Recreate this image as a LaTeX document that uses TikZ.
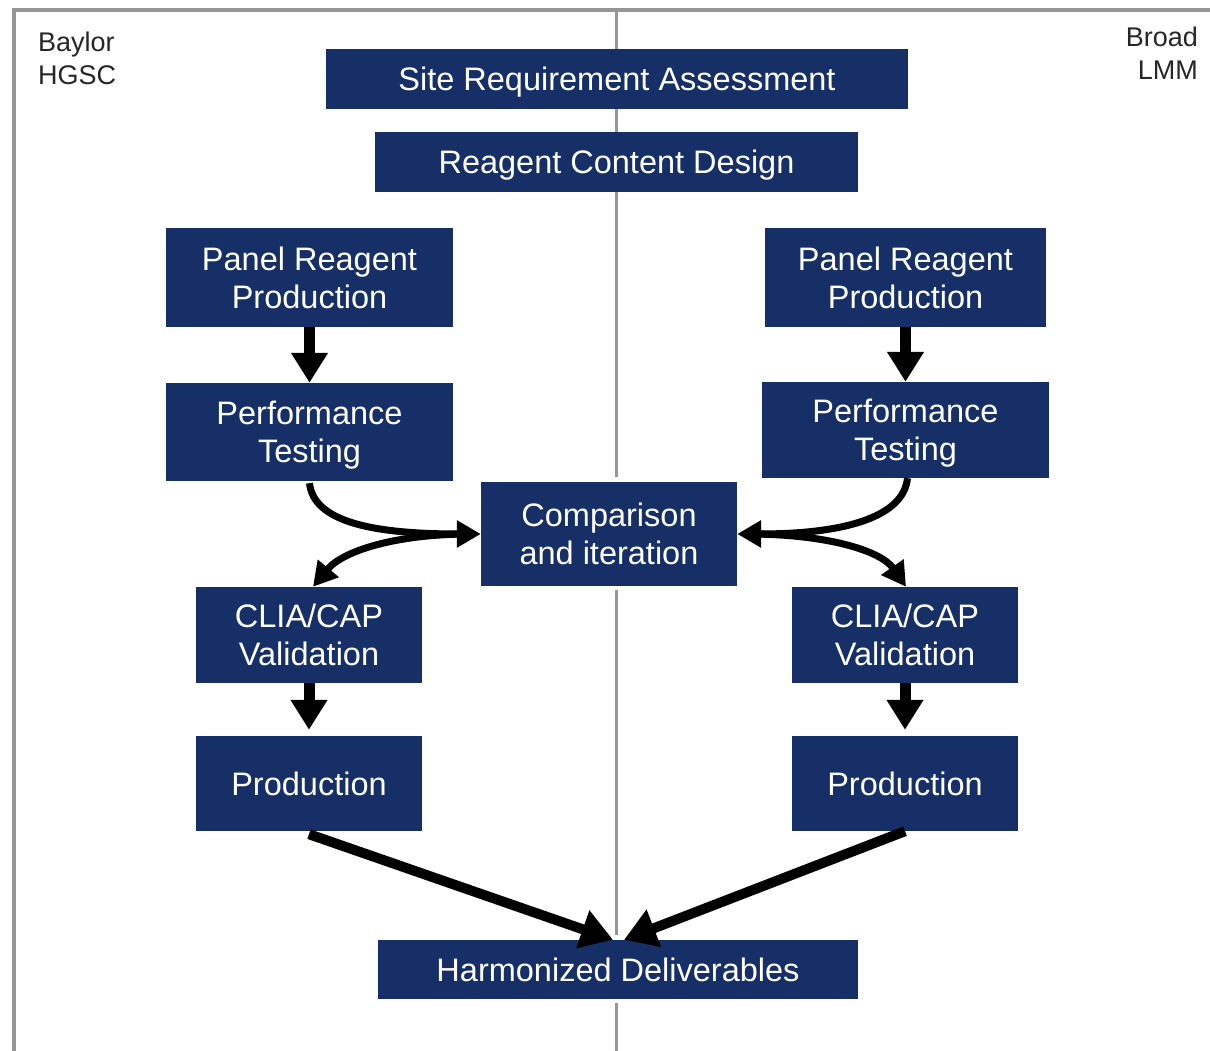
\documentclass[tikz,border=0pt]{standalone}
\usepackage{fontspec}
\setmainfont{Liberation Sans}
\usetikzlibrary{arrows.meta}
\definecolor{navy}{RGB}{22,47,103}
\definecolor{rulegray}{RGB}{150,150,150}
\begin{document}
\begin{tikzpicture}[x=1pt,y=1pt,
  stepbox/.style={fill=navy, text=white, align=center, inner sep=0pt,
    text depth=0pt, font=\fontsize{32.5}{38}\selectfont},
  haloed/.style={preaction={draw=white, line width=9pt}},
  sitelabel/.style={inner sep=0pt, text=black!85,
    font=\fontsize{27}{33}\selectfont},
  bigarrow/.style={line width=11pt, -{Triangle[length=30pt,width=35pt]}},
  diagarrow/.style={line width=10pt, -{Triangle[length=32pt,width=38pt]}},
  curvearrow/.style={line width=7pt, -{Triangle[length=24pt,width=26pt]}},
  frameline/.style={draw=rulegray, line width=3.5pt}
]
\useasboundingbox (0,0) rectangle (1210,1051);

% frame and the divider between the two sites
\draw[frameline] (14,-5) -- (14,1041) -- (1215,1041);
\draw[frameline, line width=3pt] (616,-5) -- (616,1041);

% site labels
\node[sitelabel, anchor=north west, align=left] (baylor) at (38,1019) {Baylor\\HGSC};
\node[sitelabel, anchor=north east, align=right] (broad) at (1198,1024) {Broad\\LMM};

% shared steps
\node[stepbox, minimum width=582pt, minimum height=60pt] (site) at (617,972) {Site Requirement Assessment};
\node[stepbox, minimum width=483pt, minimum height=60pt] (reag) at (616.5,889) {Reagent Content Design};

% Baylor column
\node[stepbox, minimum width=287pt, minimum height=99pt] (lpanel) at (309.5,773.5) {Panel Reagent\\Production};
\node[stepbox, minimum width=287pt, minimum height=98pt] (lperf) at (309.5,619) {Performance\\Testing};
\node[stepbox, minimum width=226pt, minimum height=96pt] (lclia) at (309,416) {CLIA/CAP\\Validation};
\node[stepbox, minimum width=226pt, minimum height=95pt] (lprod) at (309,267.5) {Production};

% Broad column
\node[stepbox, minimum width=281pt, minimum height=99pt] (rpanel) at (905.5,773.5) {Panel Reagent\\Production};
\node[stepbox, minimum width=287pt, minimum height=96pt] (rperf) at (905.5,621) {Performance\\Testing};
\node[stepbox, minimum width=226pt, minimum height=96pt] (rclia) at (905,416) {CLIA/CAP\\Validation};
\node[stepbox, minimum width=226pt, minimum height=95pt] (rprod) at (905,267.5) {Production};

% joint steps
\node[stepbox, haloed, minimum width=256pt, minimum height=104pt] (comp) at (609,517) {Comparison\\and iteration};
\node[stepbox, haloed, minimum width=480pt, minimum height=59pt] (harm) at (618,81.5) {Harmonized Deliverables};

% straight flow inside each column
\draw[bigarrow] (lpanel.south) -- (lperf.north);
\draw[bigarrow] (rpanel.south) -- (rperf.north);
\draw[bigarrow] (lclia.south) -- ([yshift=6pt]lprod.north);
\draw[bigarrow] (rclia.south) -- ([yshift=6pt]rprod.north);

% into and out of the comparison step
\draw[curvearrow] ([yshift=-2pt]lperf.south) .. controls +(4,-38) and +(-110,0) .. (comp.west);
\draw[curvearrow] ([xshift=-10pt]comp.west) .. controls +(-75,0) and +(30,36) .. ([xshift=4pt]lclia.north);
\draw[curvearrow] ([xshift=2pt]rperf.south) .. controls +(-4,-38) and +(110,0) .. (comp.east);
\draw[curvearrow] ([xshift=10pt]comp.east) .. controls +(80,0) and +(-25,36) .. ([xshift=1pt]rclia.north);

% both productions feed the deliverables
\draw[diagarrow] ([yshift=-3pt]lprod.south) -- ([xshift=-5pt]harm.north);
\draw[diagarrow] (rprod.south) -- ([xshift=6pt]harm.north);
\end{tikzpicture}
\end{document}
